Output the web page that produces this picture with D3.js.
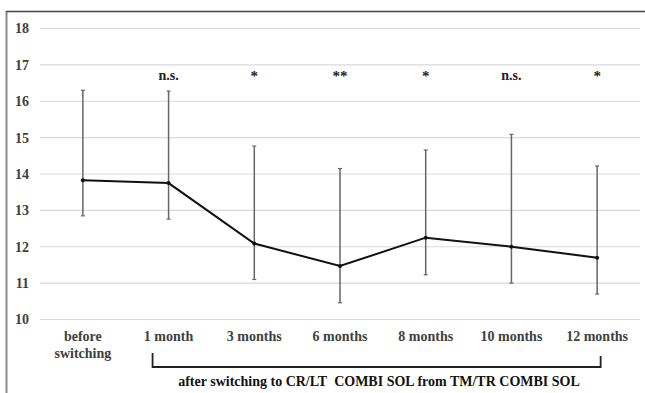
<!DOCTYPE html>
<html>
<head>
<meta charset="utf-8">
<script src="https://cdn.jsdelivr.net/npm/d3@7"></script>
<style>
  html, body { margin: 0; padding: 0; background: #fff; }
  svg { display: block; }
  svg text { font-family: "Liberation Serif", serif !important; font-weight: bold; }
</style>
</head>
<body>
<svg id="chart" width="645" height="393"></svg>
<script>
// Time points and measured values (mean with upper / lower error limits)
const categories = ["before switching", "1 month", "3 months", "6 months", "8 months", "10 months", "12 months"];
const means  = [13.83, 13.75, 12.09, 11.47, 12.25, 12.00, 11.70];
const upper  = [16.30, 16.28, 14.77, 14.15, 14.66, 15.09, 14.22];
const lower  = [12.85, 12.76, 11.10, 10.46, 11.23, 11.00, 10.70];
const significance = ["", "n.s.", "*", "**", "*", "n.s.", "*"];
const yTicks = [10, 11, 12, 13, 14, 15, 16, 17, 18];
const bracketLabel = "after switching to CR/LT\u00a0 COMBI SOL from TM/TR COMBI SOL";

const svg = d3.select("#chart");

const x = d3.scaleBand().domain(categories).range([40, 640]);
const y = d3.scaleLinear().domain([10, 18]).range([319.5, 28.5]);
const cx = d => x(d) + x.bandwidth() / 2;

// Frame
svg.append("line").attr("x1", 6.5).attr("x2", 6.5).attr("y1", 11).attr("y2", 393)
  .attr("stroke", "#8a8a8a").attr("stroke-width", 2);
svg.append("line").attr("x1", 6).attr("x2", 645).attr("y1", 11.5).attr("y2", 11.5)
  .attr("stroke", "#444").attr("stroke-width", 1.5);

// Horizontal gridlines
svg.append("g").selectAll("line").data(yTicks).join("line")
  .attr("x1", 40).attr("x2", 640)
  .attr("y1", d => y(d)).attr("y2", d => y(d))
  .attr("stroke", "#d9d9d9").attr("stroke-width", 1.2);

// Y axis labels
const yAxis = d3.axisLeft(y).tickValues(yTicks).tickSize(0).tickPadding(0);
const yg = svg.append("g").attr("transform", "translate(29,0)").call(yAxis);
yg.select(".domain").remove();
yg.attr("font-family", null).attr("font-size", null);
yg.selectAll("text").style("font-size", "14px").attr("fill", "#404040");

// X axis labels
const xg = svg.append("g");
categories.forEach(c => {
  const words = c === "before switching" ? ["before", "switching"] : [c];
  const t = xg.append("text").attr("x", cx(c)).attr("y", 341)
    .attr("text-anchor", "middle").style("font-size", "14px").attr("fill", "#404040");
  words.forEach((w, j) => t.append("tspan").attr("x", cx(c)).attr("dy", j === 0 ? 0 : 17).text(w));
});

// Error bars
const eb = svg.append("g").attr("stroke", "#666");
categories.forEach((c, i) => {
  eb.append("line").attr("x1", cx(c)).attr("x2", cx(c))
    .attr("y1", y(upper[i])).attr("y2", y(lower[i])).attr("stroke-width", 1.5);
  [upper[i], lower[i]].forEach(v => {
    eb.append("line").attr("x1", cx(c) - 2).attr("x2", cx(c) + 2)
      .attr("y1", y(v)).attr("y2", y(v)).attr("stroke-width", 1.2);
  });
});

// Mean line with markers
const line = d3.line().x((d, i) => cx(categories[i])).y(d => y(d));
svg.append("path").datum(means).attr("d", line)
  .attr("fill", "none").attr("stroke", "#111").attr("stroke-width", 2);
svg.append("g").selectAll("circle").data(means).join("circle")
  .attr("cx", (d, i) => cx(categories[i])).attr("cy", d => y(d)).attr("r", 2)
  .attr("fill", "#111");

// Significance markers
svg.append("g").selectAll("text").data(significance).join("text")
  .attr("x", (d, i) => cx(categories[i]))
  .attr("y", d => d === "n.s." ? 80 : 81)
  .attr("text-anchor", "middle")
  .style("font-size", d => d === "n.s." ? "14px" : "15px")
  .attr("fill", "#222")
  .text(d => d);

// Bracket grouping the post-switch time points
const bx1 = cx(categories[1]) - 16, bx2 = cx(categories[6]) + 3.5;
svg.append("path")
  .attr("d", `M${bx1},353 V367 H${bx2} V356`)
  .attr("fill", "none").attr("stroke", "#222").attr("stroke-width", 1.8);
svg.append("text").attr("x", 379).attr("y", 386)
  .attr("text-anchor", "middle").style("font-size", "14px")
  .attr("fill", "#111")
  .text(bracketLabel);
</script>
</body>
</html>
